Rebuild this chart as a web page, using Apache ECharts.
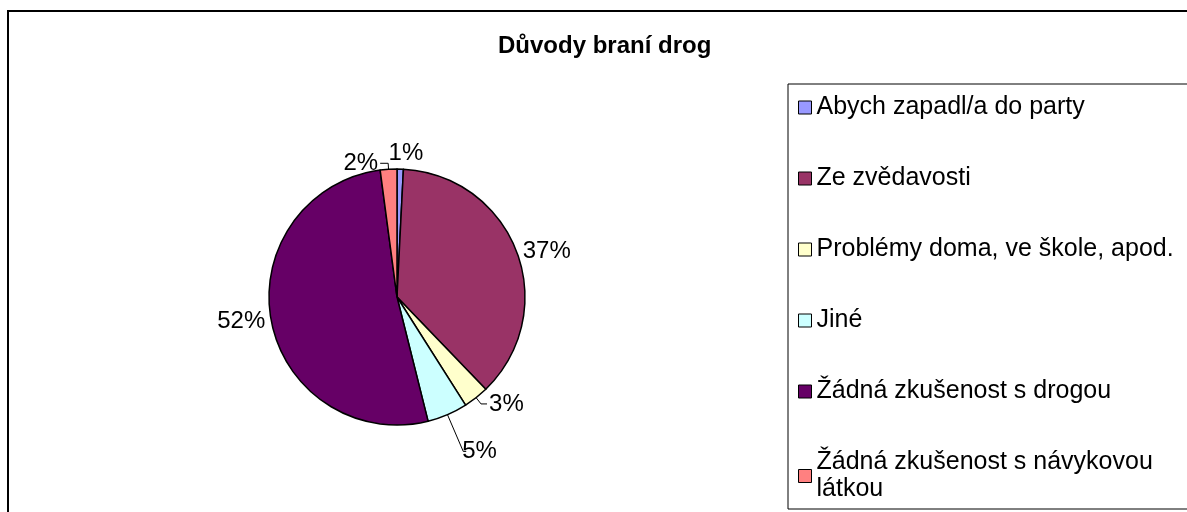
<!DOCTYPE html>
<html>
<head>
<meta charset="utf-8">
<script src="https://cdn.jsdelivr.net/npm/echarts@6/dist/echarts.min.js"></script>
<style>
html,body{margin:0;padding:0;background:#fff;}
#chart{width:1187px;height:512px;}
</style>
</head>
<body>
<div id="chart"></div>
<script>
const title = 'Důvody braní drog';
const categories = [
  'Abych zapadl/a do party',
  'Ze zvědavosti',
  'Problémy doma, ve škole, apod.',
  'Jiné',
  'Žádná zkušenost s drogou',
  'Žádná zkušenost s návykovou látkou'
];
const values = [0.8, 37.0, 3.2, 5.1, 51.8, 2.1];
const colors = ['#9999FF', '#993366', '#FFFFCC', '#CCFFFF', '#660066', '#FF8080'];
const showLine = [false, false, true, true, false, true];
const lineLen = [16, 2, 8, 40, 2, 6];
const lineLen2 = [2, 2, 6, 3, 2, 8];

const FONT = '"Liberation Sans", Arial, sans-serif';

const data = categories.map((c, i) => ({
  name: c,
  value: values[i],
  itemStyle: { color: colors[i] },
  labelLine: { show: showLine[i], length: lineLen[i], length2: lineLen2[i] }
}));

const chart = echarts.init(document.getElementById('chart'));
chart.setOption({
  animation: false,
  backgroundColor: '#fff',
  graphic: [{
    type: 'rect',
    shape: { x: 8, y: 11, width: 1300, height: 700 },
    style: { fill: 'none', stroke: '#000', lineWidth: 2 },
    silent: true
  }],
  title: {
    text: title,
    left: 493,
    top: 29,
    textStyle: { fontFamily: FONT, fontSize: 24, fontWeight: 'bold', color: '#000' }
  },
  legend: {
    orient: 'vertical',
    left: 788,
    top: 84,
    height: 470,
    padding: [10, 60, 6, 10],
    borderColor: '#000',
    borderWidth: 1,
    itemWidth: 13,
    itemHeight: 13,
    itemGap: 44,
    icon: 'rect',
    selectedMode: false,
    itemStyle: { borderColor: '#000', borderWidth: 1 },
    formatter: function (name) {
      return name === categories[5] ? 'Žádná zkušenost s návykovou\nlátkou' : name;
    },
    textStyle: { fontFamily: FONT, fontSize: 25, color: '#000', lineHeight: 27 },
    data: categories
  },
  series: [{
    type: 'pie',
    center: [397, 297],
    radius: 128,
    startAngle: 90,
    clockwise: true,
    avoidLabelOverlap: true,
    itemStyle: { borderColor: '#000', borderWidth: 1.5 },
    label: {
      show: true,
      position: 'outside',
      fontFamily: FONT,
      fontSize: 24,
      color: '#000',
      distanceToLabelLine: 2,
      formatter: function (p) { return Math.round(p.percent) + '%'; }
    },
    labelLayout: function (p) {
      if (p.dataIndex === 0) return { dx: -16 };
      if (p.dataIndex === 3) return { dx: -6 };
      return {};
    },
    labelLine: { lineStyle: { color: '#000', width: 1 } },
    emphasis: { disabled: true },
    data: data
  }]
});
</script>
</body>
</html>
